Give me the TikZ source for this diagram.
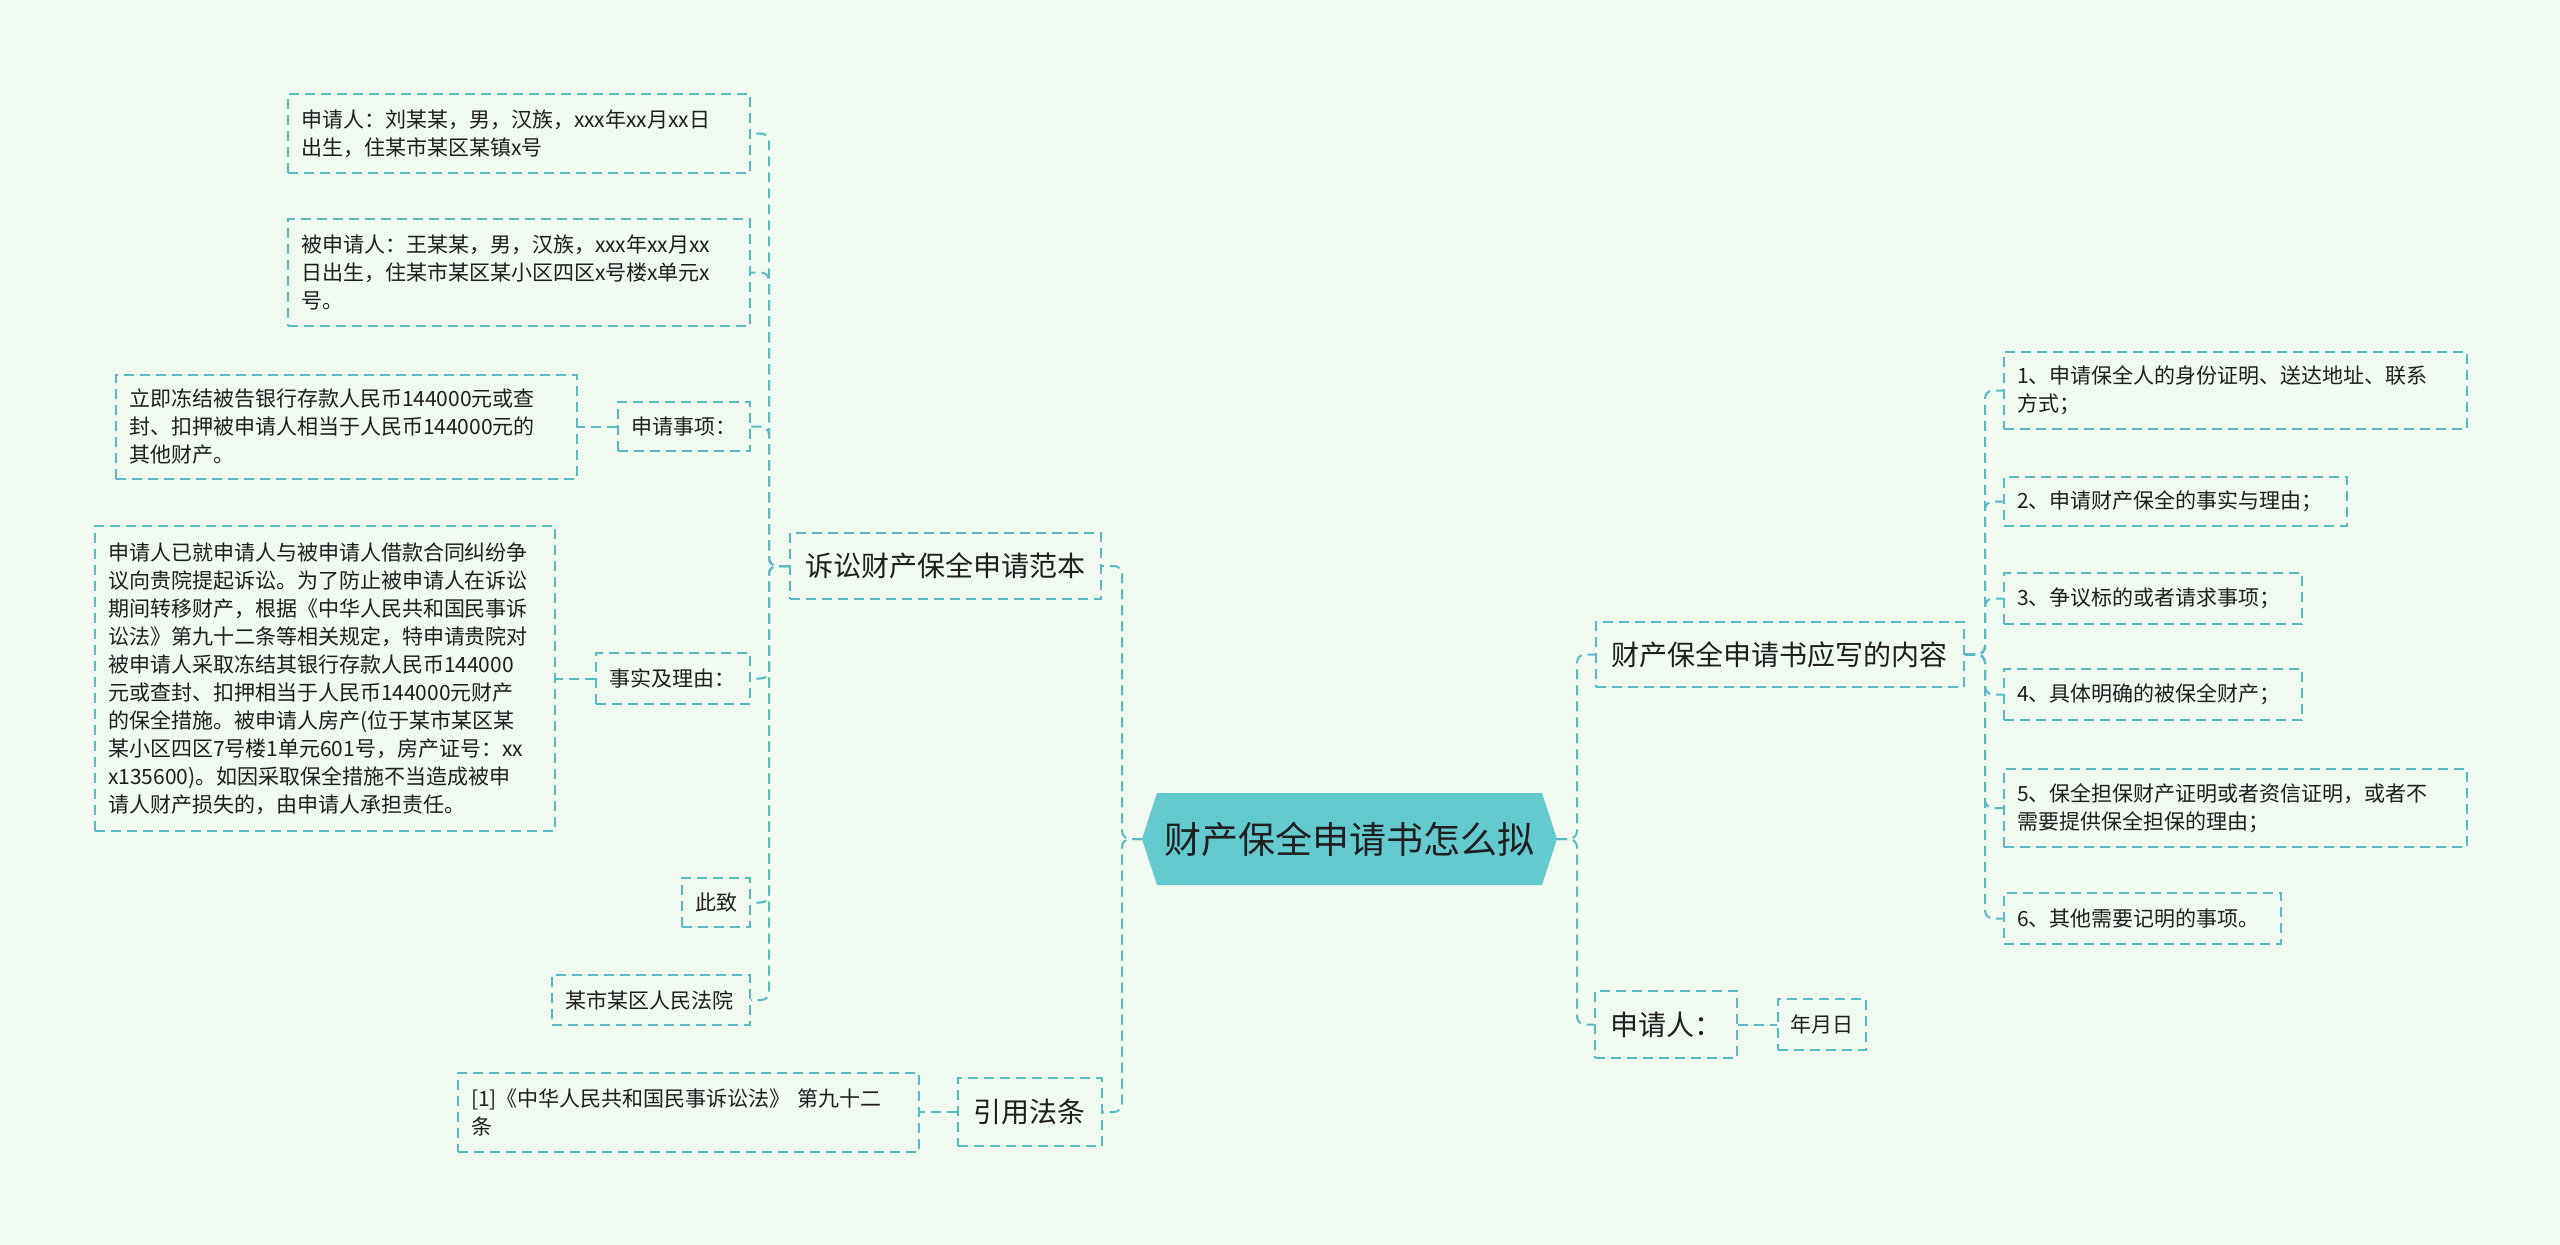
\documentclass[tikz,border=0pt]{standalone}
\usepackage{fontspec}
\setmainfont{Noto Sans CJK SC}
\usetikzlibrary{backgrounds}
\definecolor{bgc}{RGB}{240,250,241}
\definecolor{lineteal}{RGB}{90,186,196}
\definecolor{hexfill}{RGB}{99,203,206}
\definecolor{txt}{RGB}{30,30,30}
\begin{document}
\begin{tikzpicture}[x=1pt,y=-1pt,
  box/.style={draw=lineteal, line width=2pt, dash pattern=on 10pt off 6pt, inner xsep=13pt, inner ysep=4pt, align=left, text=txt, font=\fontsize{21}{28}\selectfont, anchor=center},
  bigbox/.style={box, font=\fontsize{28}{34}\selectfont, inner xsep=15pt},
  conn/.style={draw=lineteal, line width=2pt, dash pattern=on 10pt off 6pt, rounded corners=8pt},
  hexnode/.style={font=\fontsize{37}{44}\selectfont, text=txt, minimum width=385pt, minimum height=92pt, inner sep=0pt, outer xsep=15pt, outer ysep=0pt}
]
\useasboundingbox (0,0) rectangle (2560,1245);

% central node
\node[hexnode] (hex) at (1349.5,839) {财产保全申请书怎么拟};

% left branch 1
\node[bigbox, text width=281pt, minimum height=66pt] (susong) at (945.5,566) {诉讼财产保全申请范本};
\node[box, text width=436pt, minimum height=79pt] (sq1) at (519,133.5) {申请人：刘某某，男，汉族，xxx年xx月xx日\\出生，住某市某区某镇x号};
\node[box, text width=436pt, minimum height=107pt] (bsq) at (519,272.5) {被申请人：王某某，男，汉族，xxx年xx月xx\\日出生，住某市某区某小区四区x号楼x单元x\\号。};
\node[box, text width=106pt, minimum height=49pt] (sx) at (684,426.5) {申请事项：};
\node[box, text width=435pt, minimum height=104pt] (ljdj) at (346.5,426.5) {立即冻结被告银行存款人民币144000元或查\\封、扣押被申请人相当于人民币144000元的\\其他财产。};
\node[box, text width=128pt, minimum height=51pt] (ssly) at (673,678.5) {事实及理由：};
\node[box, text width=434pt, minimum height=305pt] (longtxt) at (325,678.5) {申请人已就申请人与被申请人借款合同纠纷争\\议向贵院提起诉讼。为了防止被申请人在诉讼\\期间转移财产，根据《中华人民共和国民事诉\\讼法》第九十二条等相关规定，特申请贵院对\\被申请人采取冻结其银行存款人民币144000\\元或查封、扣押相当于人民币144000元财产\\的保全措施。被申请人房产(位于某市某区某\\某小区四区7号楼1单元601号，房产证号：xx\\x135600)。如因采取保全措施不当造成被申\\请人财产损失的，由申请人承担责任。};
\node[box, text width=42pt, minimum height=49pt] (cz) at (716,902.5) {此致};
\node[box, text width=172pt, minimum height=50pt] (fy) at (651,1000) {某市某区人民法院};

% left branch 2
\node[bigbox, text width=114pt, minimum height=68pt] (yyft) at (1030,1112) {引用法条};
\node[box, text width=435pt, minimum height=79pt] (ref) at (688.5,1112) {[1]《中华人民共和国民事诉讼法》 第九十二\\条};

% right branch 1
\node[bigbox, text width=338pt, minimum height=65pt] (nr) at (1780,654.5) {财产保全申请书应写的内容};
\node[box, text width=437pt, minimum height=77pt] (i1) at (2235.5,390.5) {1、申请保全人的身份证明、送达地址、联系\\方式；};
\node[box, text width=317pt, minimum height=49pt] (i2) at (2175.5,501.5) {2、申请财产保全的事实与理由；};
\node[box, text width=272pt, minimum height=51pt] (i3) at (2153,598.5) {3、争议标的或者请求事项；};
\node[box, text width=272pt, minimum height=51pt] (i4) at (2153,694.5) {4、具体明确的被保全财产；};
\node[box, text width=437pt, minimum height=78pt] (i5) at (2235.5,808) {5、保全担保财产证明或者资信证明，或者不\\需要提供保全担保的理由；};
\node[box, text width=251pt, minimum height=51pt] (i6) at (2142.5,918.5) {6、其他需要记明的事项。};

% right branch 2
\node[bigbox, text width=112pt, minimum height=67pt] (sqr) at (1666,1024.5) {申请人：};
\node[box, inner xsep=12pt, text width=64pt, minimum height=51pt] (nyr) at (1822,1024.5) {年月日};

\begin{pgfonlayer}{background}
  \fill[bgc] (0,0) rectangle (2560,1245);
  \fill[hexfill] ([xshift=15pt]hex.north west) -- ([xshift=-15pt]hex.north east) -- (hex.east)
    -- ([xshift=-15pt]hex.south east) -- ([xshift=15pt]hex.south west) -- (hex.west) -- cycle;
\end{pgfonlayer}

% connectors
\draw[conn] (hex.west) -- ++(-20,0) |- (susong.east);
\draw[conn] (hex.west) -- ++(-20,0) |- (yyft.east);
\draw[conn] (hex.east) -- ++(20,0) |- (nr.west);
\draw[conn] (hex.east) -- ++(20,0) |- (sqr.west);

\foreach \c in {sq1,bsq,sx,ssly}
  \draw[conn] (susong.west) -- ++(-20,0) |- (\c.east);
\foreach \c in {cz,fy}
  \draw[conn] (susong.west) -- ++(-20,0) |- (\c.east);
\draw[conn] (sx.west) -- (ljdj.east);
\draw[conn] (ssly.west) -- (longtxt.east);
\draw[conn] (yyft.west) -- (ref.east);

\foreach \c in {i1,i2,i3,i4,i5,i6}
  \draw[conn] (nr.east) -- ++(20,0) |- (\c.west);
\draw[conn] (sqr.east) -- (nyr.west);
\end{tikzpicture}
\end{document}
